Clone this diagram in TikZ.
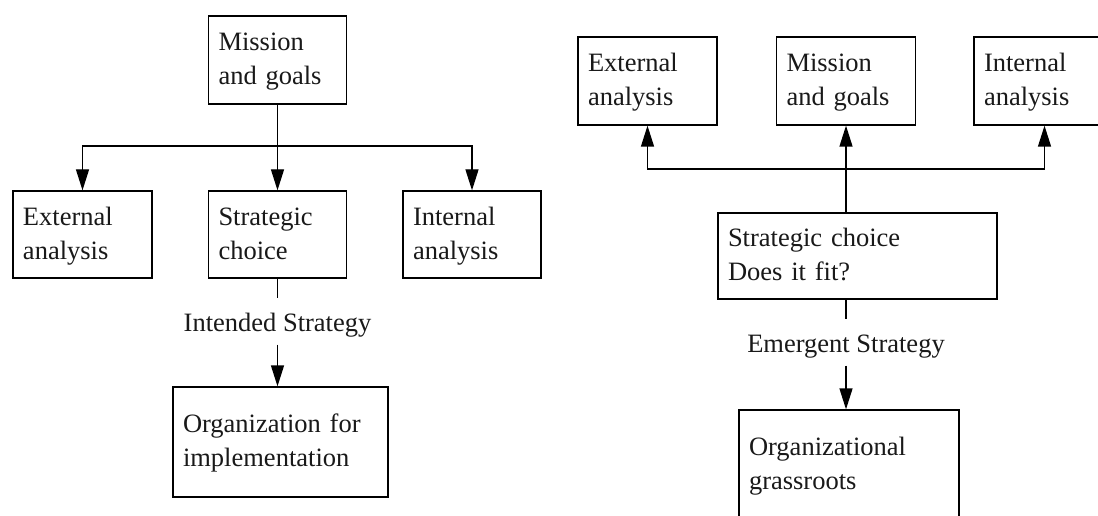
\documentclass[tikz,border=0pt]{standalone}
\usepackage{fontspec}
\setmainfont{Liberation Serif}
\usetikzlibrary{arrows.meta}
% strut that fixes the height of the first line and the depth of the last
\newcommand\bxs{\rule[-6pt]{0pt}{27pt}}
\begin{document}
\begin{tikzpicture}[x=1pt,y=-1pt,
  line width=1.3pt,
  every node/.style={font=\fontsize{26.5}{34}\selectfont, text=black!90},
  box/.style={draw, align=left, inner xsep=10pt, inner ysep=0pt},
  tag/.style={inner xsep=2pt, inner ysep=8pt, text height=24pt, text depth=5pt, anchor=base},
  arrow/.style={-{Triangle[length=21pt,width=13pt]}},
]
\useasboundingbox (0,0) rectangle (1098,516);
\clip (0,0) rectangle (1098,516);
\fill[white] (0,0) rectangle (1098,516);

% ---- intended strategy ----
\node[box, text width=118pt, minimum height=88pt] (lmis) at (277.5,60)
  {\bxs Mission\\and goals\bxs};
\node[box, text width=119pt, minimum height=87pt] (lext) at (82.5,234.5)
  {\bxs External\\analysis\bxs};
\node[box, text width=118pt, minimum height=87pt] (lstr) at (277.5,234.5)
  {\bxs Strategic\\choice\bxs};
\node[box, text width=118pt, minimum height=87pt] (lint) at (472,234.5)
  {\bxs Internal\\analysis\bxs};
\node[tag] (llab) at (277.5,331) {Intended Strategy};
\node[box, text width=195pt, minimum height=110pt] (lorg) at (280.5,442)
  {\bxs Organization for\\implementation\bxs};

\coordinate (lbar) at (277.5,146);
\draw (lmis.south) -- (lbar);
\draw[arrow] (lbar) -| (lext.north);
\draw[arrow] (lbar) -- (lstr.north);
\draw[arrow] (lbar) -| (lint.north);
\draw (lstr.south) -- (llab.north);
\draw[arrow] (llab.south) -- (llab.south |- lorg.north);

% ---- emergent strategy ----
\node[box, text width=119pt, minimum height=88pt] (rext) at (647.5,81)
  {\bxs External\\analysis\bxs};
\node[box, text width=119pt, minimum height=88pt] (rmis) at (846,81)
  {\bxs Mission\\and goals\bxs};
\node[box, text width=121pt, minimum height=88pt] (rint) at (1044.5,81)
  {\bxs Internal\\analysis\bxs};
\node[box, text width=259pt, minimum height=86pt] (rstr) at (857.5,256)
  {\bxs Strategic choice\\Does it fit?\bxs};
\node[tag] (rlab) at (846,352) {Emergent Strategy};
\node[box, text width=200pt, minimum height=110pt] (rorg) at (849,465)
  {\bxs Organizational\\grassroots\bxs};

\coordinate (rbar) at (846,169);
\draw[arrow] (rstr.north -| rmis.south) -- (rmis.south);
\draw[arrow] (rbar) -| (rext.south);
\draw[arrow] (rbar) -| (rint.south);
\draw (rstr.south -| rlab.north) -- (rlab.north);
\draw[arrow] (rlab.south) -- (rlab.south |- rorg.north);
\end{tikzpicture}
\end{document}
